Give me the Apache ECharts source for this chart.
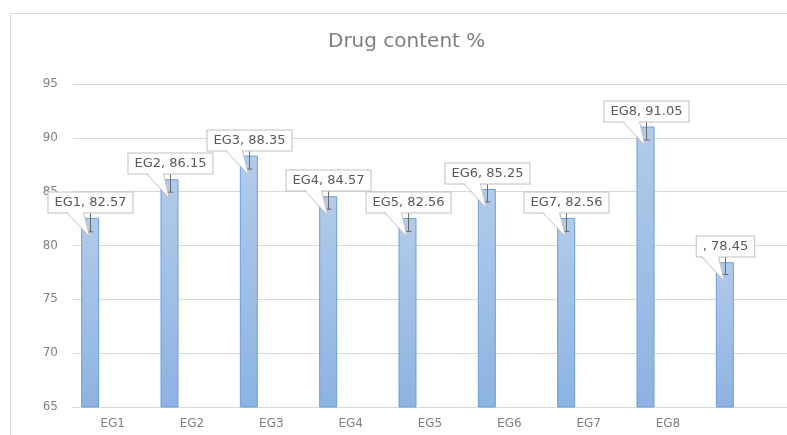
<!DOCTYPE html>
<html>
<head>
<meta charset="utf-8">
<script src="https://cdn.jsdelivr.net/npm/echarts@6/dist/echarts.min.js"></script>
<style>
  html, body { margin: 0; padding: 0; background: #fff; }
  #main { width: 787px; height: 435px; }
</style>
</head>
<body>
<div id="main"></div>
<script>
// chart data
var categories = ['EG1', 'EG2', 'EG3', 'EG4', 'EG5', 'EG6', 'EG7', 'EG8', '']
var drugContent = [82.57, 86.15, 88.35, 84.57, 82.56, 85.25, 82.56, 91.05, 78.45]
var errorSize = [1.3, 1.2, 1.25, 1.2, 1.25, 1.2, 1.25, 1.25, 1.15]
var yMin = 65
var yMax = 95
var yStep = 5

// bar layout (second series is an empty slot, like the excel cluster)
var barWidth = 18
var barGap = 1.5
var barOffset = -(barWidth * 2 + barWidth * barGap) / 2 + barWidth / 2

var font = 'DejaVu Sans'

var errData = []
var labelData = []
for (var i = 0; i < drugContent.length; i++) {
  errData.push([i, drugContent[i], errorSize[i]])
  labelData.push([i, drugContent[i]])
}

function renderError(params, api) {
  var p = api.coord([api.value(0), api.value(1)])
  var e = api.value(2)
  var x = Math.round(p[0] + barOffset) + 0.5
  var top = api.coord([api.value(0), api.value(1) + e])[1]
  var bot = api.coord([api.value(0), api.value(1) - e])[1]
  var st = { stroke: '#6b6b6b', lineWidth: 1 }
  return {
    type: 'group',
    children: [
      { type: 'line', shape: { x1: x, y1: top, x2: x, y2: bot }, style: st },
      { type: 'line', shape: { x1: x - 3, y1: top, x2: x + 3, y2: top }, style: st },
      { type: 'line', shape: { x1: x - 3, y1: bot, x2: x + 3, y2: bot }, style: st }
    ]
  }
}

function renderLabel(params, api) {
  var i = params.dataIndex
  var p = api.coord([api.value(0), api.value(1)])
  var bx = p[0] + barOffset
  var cx = Math.round(bx) + 0.5
  var b = Math.round(p[1]) - 6 + 0.5
  var tipX = bx - 0.5
  var tipY = p[1] + 19
  var txt = categories[i] + ', ' + drugContent[i].toFixed(2)
  return {
    type: 'group',
    children: [
      {
        type: 'text',
        x: cx,
        y: b,
        style: {
          text: txt,
          font: '13px "' + font + '"',
          fill: '#595959',
          align: 'center',
          verticalAlign: 'bottom',
          lineHeight: 14,
          backgroundColor: '#fff',
          borderColor: '#bfbfbf',
          borderWidth: 1,
          padding: [3, 6, 3, 6]
        }
      },
      {
        type: 'polygon',
        shape: { points: [[cx - 24, b - 1.5], [cx - 7, b - 1.5], [tipX, tipY]] },
        style: { fill: '#fff' }
      },
      {
        type: 'polyline',
        shape: { points: [[cx - 24, b], [tipX, tipY], [cx - 7, b]] },
        style: { stroke: '#bfbfbf', lineWidth: 1, fill: null }
      }
    ]
  }
}

var chart = echarts.init(document.getElementById('main'), null, { renderer: 'canvas' })

var option = {
  backgroundColor: '#fff',
  animation: false,
  title: {
    text: 'Drug content %',
    left: 323,
    top: 27,
    textStyle: {
      fontFamily: font,
      fontSize: 20,
      fontWeight: 'normal',
      color: '#7f7f7f'
    }
  },
  graphic: [{
    type: 'rect',
    silent: true,
    z: -1,
    shape: { x: 10.5, y: 13.5, width: 820, height: 460 },
    style: { fill: 'none', stroke: '#d9d9d9', lineWidth: 1 }
  }],
  grid: {
    left: 73,
    top: 84,
    width: 727,
    bottom: 28,
    containLabel: false
  },
  xAxis: {
    type: 'category',
    data: categories,
    axisLine: { lineStyle: { color: '#d9d9d9' } },
    axisTick: { show: false },
    axisLabel: {
      color: '#7f7f7f',
      fontFamily: font,
      fontSize: 12,
      margin: 11,
      interval: 0
    }
  },
  yAxis: {
    type: 'value',
    min: yMin,
    max: yMax,
    interval: yStep,
    axisLine: { show: false },
    axisTick: { show: false },
    splitLine: { lineStyle: { color: '#d9d9d9' } },
    axisLabel: {
      color: '#7f7f7f',
      fontFamily: font,
      fontSize: 12,
      margin: 15
    }
  },
  series: [
    {
      type: 'bar',
      name: 'Drug content',
      data: drugContent,
      barWidth: barWidth,
      barGap: (barGap * 100) + '%',
      itemStyle: {
        color: new echarts.graphic.LinearGradient(0, 0, 0, 1, [
          { offset: 0, color: '#b1cbea' },
          { offset: 1, color: '#8db3e2' }
        ]),
        borderColor: '#6a9fd9',
        borderWidth: 1
      },
      z: 2
    },
    {
      type: 'bar',
      name: 'empty',
      data: categories.map(function () { return '-' }),
      barWidth: barWidth,
      barGap: (barGap * 100) + '%'
    },
    {
      type: 'custom',
      name: 'error',
      renderItem: renderError,
      data: errData,
      z: 3
    },
    {
      type: 'custom',
      name: 'labels',
      renderItem: renderLabel,
      data: labelData,
      z: 4
    }
  ]
}

chart.setOption(option)
</script>
</body>
</html>
